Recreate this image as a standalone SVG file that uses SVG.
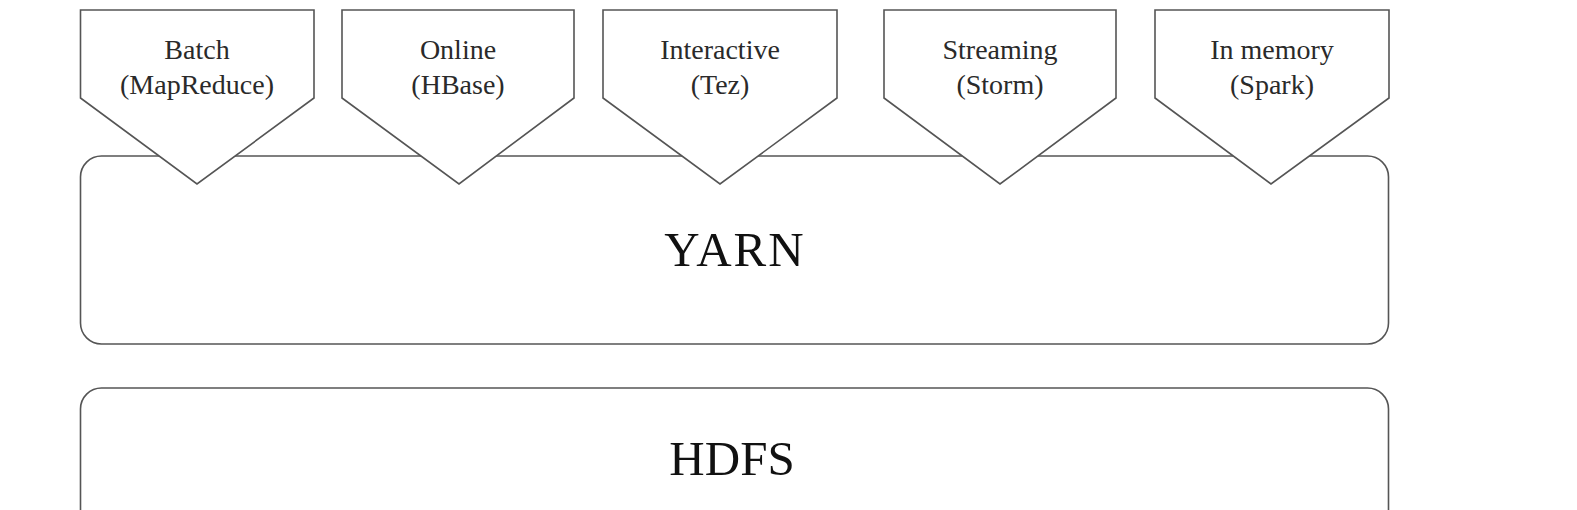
<svg xmlns="http://www.w3.org/2000/svg" width="1577" height="510" viewBox="0 0 1577 510">
<style>
.box{fill:#fff;stroke:#555;stroke-width:1.6}
.lbl{font-family:"Liberation Serif","Times New Roman",serif;font-size:28px;fill:#2a2a2a;text-anchor:middle}
.big{font-family:"Liberation Serif","Times New Roman",serif;font-size:49px;fill:#111;text-anchor:middle}
</style>
<rect width="1577" height="510" fill="#fff"/>
<g id="yarn">
<rect class="box" x="80.5" y="156" width="1308" height="188" rx="21" ry="21"/>
<text class="big" x="735" y="266" letter-spacing="2">YARN</text>
</g>
<g id="hdfs">
<rect class="box" x="80.5" y="388" width="1308" height="180" rx="21" ry="21"/>
<text class="big" x="732" y="475">HDFS</text>
</g>
<g id="batch">
<polygon class="box" points="80.5,10 314,10 314,98 197,184 80.5,98"/>
<text class="lbl" x="197" y="59">Batch</text>
<text class="lbl" x="197" y="94">(MapReduce)</text>
</g>
<g id="online">
<polygon class="box" points="342,10 574,10 574,98 459,184 342,98"/>
<text class="lbl" x="458" y="59">Online</text>
<text class="lbl" x="458" y="94">(HBase)</text>
</g>
<g id="interactive">
<polygon class="box" points="603,10 837,10 837,98 720,184 603,98"/>
<text class="lbl" x="720" y="59">Interactive</text>
<text class="lbl" x="720" y="94">(Tez)</text>
</g>
<g id="streaming">
<polygon class="box" points="884,10 1116,10 1116,98 1000,184 884,98"/>
<text class="lbl" x="1000" y="59">Streaming</text>
<text class="lbl" x="1000" y="94">(Storm)</text>
</g>
<g id="inmemory">
<polygon class="box" points="1155,10 1389,10 1389,98 1271,184 1155,98"/>
<text class="lbl" x="1272" y="59">In memory</text>
<text class="lbl" x="1272" y="94">(Spark)</text>
</g>
<g id="connectors"></g>
</svg>
